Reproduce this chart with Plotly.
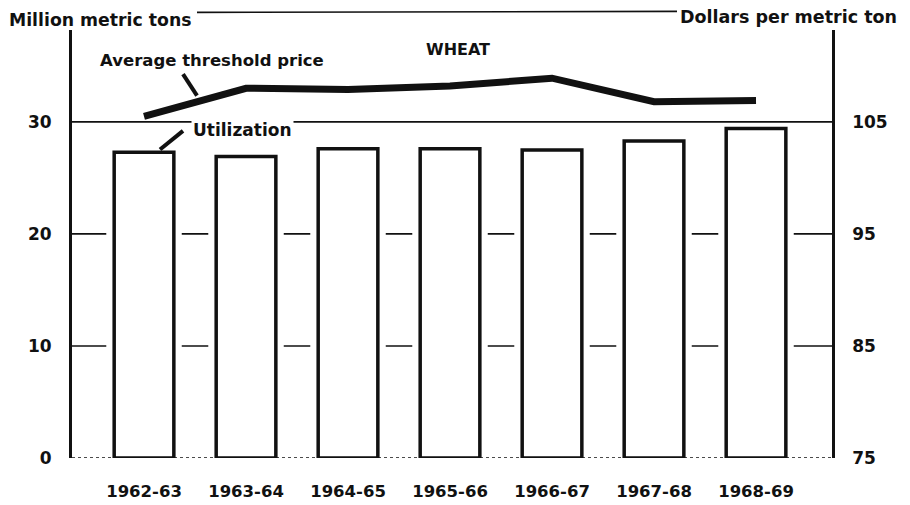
import plotly.graph_objects as go

# ---- data ----
seasons = ["1962-63", "1963-64", "1964-65", "1965-66", "1966-67", "1967-68", "1968-69"]
utilization = [27.3, 26.9, 27.6, 27.6, 27.5, 28.3, 29.4]          # million metric tons
threshold_price = [105.5, 108.0, 107.9, 108.2, 108.9, 106.8, 106.9]  # dollars per metric ton
left_ticks = [0, 10, 20, 30]
right_ticks = [75, 85, 95, 105]

W, H = 910, 505
OFF = 8  # page body margin in the browser
# plot area in screen pixels
SL, SR, ST, SB = 72, 832, 30, 467
L, R, T, B = SL - OFF, SR - OFF, ST - OFF, SB - OFF  # in figure pixels

def px(x):
    return (x - SL) / (SR - SL)

def py(y):
    return (SB - y) / (SB - ST)

FONT = "DejaVu Sans, sans-serif"
INK = "#111111"

fig = go.Figure()

# white halo behind bars (creates the small gaps in the gridlines)
fig.add_trace(go.Bar(x=seasons, y=utilization, width=0.74, marker=dict(color="white", line=dict(width=0)),
                     hoverinfo="skip", showlegend=False))
# utilization bars
fig.add_trace(go.Bar(x=seasons, y=utilization, width=0.585,
                     marker=dict(color="white", line=dict(color=INK, width=3.5)),
                     name="Utilization", showlegend=False))
# price line
fig.add_trace(go.Scatter(x=seasons, y=threshold_price, yaxis="y2", mode="lines",
                         line=dict(color=INK, width=7), name="Average threshold price",
                         showlegend=False))

ymax = 38.2
shapes = []
for v in [10, 20, 30]:
    shapes.append(dict(type="line", xref="paper", yref="y", x0=0, x1=1, y0=v, y1=v,
                       line=dict(color=INK, width=1.6), layer="below"))
# baseline
shapes.append(dict(type="line", xref="paper", yref="y", x0=0, x1=1, y0=0, y1=0,
                   line=dict(color=INK, width=1.5, dash="dot"), layer="above"))
# top connecting rule
shapes.append(dict(type="line", xref="paper", yref="paper", x0=px(197), x1=px(677), y0=py(12), y1=py(11),
                   line=dict(color=INK, width=1.6)))
# leader lines
shapes.append(dict(type="line", xref="paper", yref="paper", x0=px(183), x1=px(197), y0=py(75), y1=py(97),
                   line=dict(color=INK, width=4)))
shapes.append(dict(type="line", xref="paper", yref="paper", x0=px(160), x1=px(183), y0=py(152), y1=py(133),
                   line=dict(color=INK, width=4)))

def ann(text, x, y, size, xanchor="center", bg=None):
    d = dict(text=text, xref="paper", yref="paper", x=px(x), y=py(y), xanchor=xanchor, yanchor="middle",
             showarrow=False, font=dict(family=FONT, size=size, color=INK))
    if bg:
        d["bgcolor"] = bg
    return d

annotations = [
    ann("<b>Million metric tons</b>", 7, 20, 17.3, "left"),
    ann("<b>Dollars per metric ton</b>", 899, 17, 17.5, "right"),
    ann("<b>WHEAT</b>", 458, 50, 16),
    ann("<b>Average threshold price</b>", 212, 61, 16.5),
    ann("<b>Utilization</b>", 242, 132, 17, bg="white"),
]

fig.update_layout(
    width=W, height=H,
    margin=dict(l=L, r=W - R, t=T, b=H - B),
    paper_bgcolor="white", plot_bgcolor="white",
    barmode="overlay",
    showlegend=False,
    shapes=shapes,
    annotations=annotations,
    font=dict(family=FONT, color=INK),
    xaxis=dict(range=[-0.706, 6.745], showline=False, showgrid=False, zeroline=False,
               tickfont=dict(family=FONT, size=16.5, color=INK), ticks="", ticklabelstandoff=21,
               tickvals=seasons, ticktext=["<b>%s</b>" % s for s in seasons]),
    yaxis=dict(range=[0, ymax], tickvals=left_ticks, ticktext=["<b>%d</b>" % v for v in left_ticks],
               showgrid=False, zeroline=False, showline=True, linecolor=INK, linewidth=3,
               ticks="", ticklabelstandoff=14, tickfont=dict(family=FONT, size=17, color=INK)),
    yaxis2=dict(range=[75, 75 + ymax], overlaying="y", side="right", tickvals=right_ticks,
                ticktext=["<b>%d</b>" % v for v in right_ticks],
                showgrid=False, zeroline=False, showline=True, linecolor=INK, linewidth=2.5,
                ticks="", ticklabelstandoff=14, tickfont=dict(family=FONT, size=17, color=INK)),
)

fig.write_html("out.html")
